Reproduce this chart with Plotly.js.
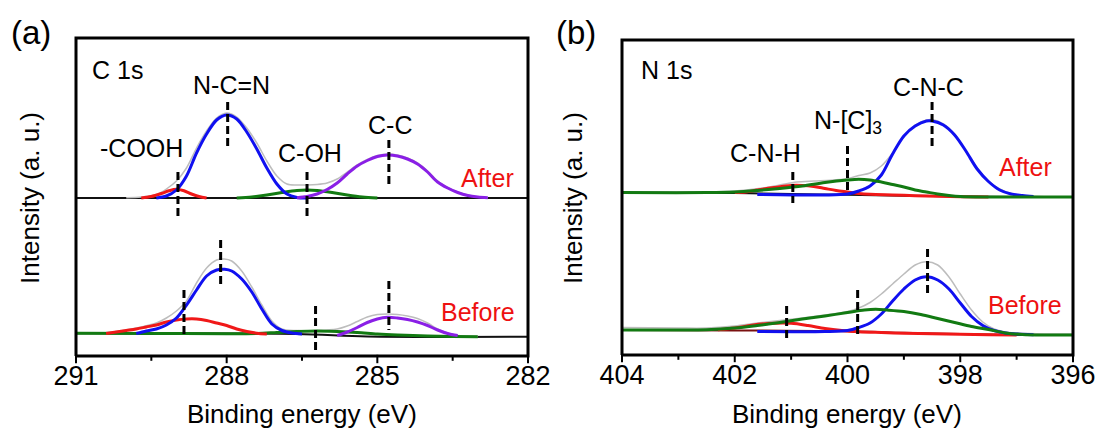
<!DOCTYPE html>
<html>
<head>
<meta charset="utf-8">
<script src="https://cdn.plot.ly/plotly-3.0.1.min.js"></script>
<style>html,body{margin:0;padding:0;background:#fff;}#chart{width:1102px;height:437px;}</style>
</head>
<body>
<div id="chart"></div>
<script>
// ---------- Panel (a) C 1s : After (values above the After baseline, a.u.) ----------
const c1sAfterOffset = 158;
const c1sAfterEnvX = [290.0,289.7,289.4,289.2,289.0,288.8,288.6,288.4,288.2,288.0,287.8,287.6,287.4,287.2,287.0,286.8,286.6,286.4,286.2,286.0,285.8,285.6,285.4,285.2,285.0,284.8,284.6,284.4,284.2,284.0,283.8,283.6,283.4,283.2,283.0,282.8];
const c1sAfterEnvY = [0.3,1,3.5,9,17,30,50,67,80,85,81,70,55,37,22,14,13,13,13.5,15,19,26,33,38.5,42.5,44,43,40,35,27,17,10.5,6,3,1,0.3];
const c1sAfterNCNX = [289.4,289.2,289.0,288.8,288.6,288.4,288.2,288.0,287.8,287.6,287.4,287.2,287.0,286.8,286.6,286.4];
const c1sAfterNCNY = [0,2,8,22,45,64,78,83,79,66,49,30,14,4,0.5,0];
const c1sAfterCOOHX = [289.7,289.5,289.3,289.15,289.0,288.85,288.7,288.55,288.4];
const c1sAfterCOOHY = [0,1.5,4.5,7.2,8.7,7.2,4,1.5,0];
const c1sAfterCOHX = [287.8,287.5,287.2,286.9,286.6,286.4,286.2,285.9,285.6,285.3,285.0];
const c1sAfterCOHY = [0,1,3,5.5,7.6,8,7.5,5.5,3,1,0];
const c1sAfterCCX = [286.6,286.4,286.2,286.0,285.8,285.6,285.4,285.2,285.0,284.8,284.6,284.4,284.2,284.0,283.8,283.6,283.4,283.2,283.0,282.8];
const c1sAfterCCY = [0.3,1.5,4,8.5,15,24,32,37.5,41.5,43,42,39,34,26,16,10,5.5,2.5,1,0.3];
const c1sAfterBgX = [291,282];
const c1sAfterBgY = [0,0];

// ---------- Panel (a) C 1s : Before ----------
const c1sBeforeOffset = 22;
const c1sBeforeEnvX = [290.6,290.2,289.8,289.4,289.2,289.0,288.8,288.6,288.4,288.2,288.05,287.9,287.7,287.5,287.3,287.1,286.9,286.6,286.2,285.8,285.6,285.4,285.2,285.0,284.8,284.6,284.4,284.2,284.0,283.8,283.6,283.4,283.0];
const c1sBeforeEnvY = [0.5,2.5,6,11,16,23,33,51,66,74,75,73,63,47,29,13,5,3.5,3.5,5,8,12.5,17,19.5,20,19.5,18,15.5,11,5,1,-1.5,-2.5];
const c1sBeforeNCNX = [289.8,289.6,289.4,289.2,289.0,288.8,288.6,288.4,288.2,288.04,287.9,287.7,287.5,287.3,287.1,286.9,286.7,286.5];
const c1sBeforeNCNY = [0.5,3,5,9,16,29,44,58,64,64.7,63,55,42,25,10,3.5,1,0];
const c1sBeforeCOOHX = [290.4,290.2,290.0,289.8,289.6,289.4,289.2,289.0,288.8,288.6,288.4,288.2,288.0,287.8,287.6,287.4,287.2];
const c1sBeforeCOOHY = [0.5,2,3.5,5,7,9,12,14,15,15,13.5,11,8.5,5,2.5,0.8,0];
const c1sBeforeCOHX = [291,289.5,288.0,287.4,287.0,286.6,286.2,285.8,285.4,285.0,284.6,284.0,283.5,283.0];
const c1sBeforeCOHY = [0.8,0.6,0.3,0.5,1.5,2.5,3,2.5,1.5,0,-1,-2,-2.5,-2.7];
const c1sBeforeCCX = [285.8,285.6,285.4,285.2,285.0,284.8,284.6,284.4,284.2,284.0,283.8,283.6,283.4];
const c1sBeforeCCY = [-1.5,2,6.5,11.5,15,16.7,16,14.5,12,8.5,4,0.5,-1.5];
const c1sBeforeBgX = [291,286.6,285.2,282];
const c1sBeforeBgY = [0.7,0,-2.5,-2.7];

// peak-position markers (a)
const c1sAfterMarkX = [288.97,287.98,286.40,284.77];
const c1sAfterMarkTop = [184,254,184,216];
const c1sAfterMarkBottom = [136,208,136,169];
const c1sBeforeMarkX = [288.85,288.12,286.23,284.77];
const c1sBeforeMarkTop = [66,116,50,75];
const c1sBeforeMarkBottom = [19,68,3,26];

// ---------- Panel (b) N 1s : After ----------
const n1sAfterOffset = 158;
const n1sAfterEnvX = [404,403,402.2,401.8,401.5,401.2,400.9,400.6,400.3,400.0,399.8,399.6,399.4,399.2,399.0,398.8,398.6,398.5,398.3,398.1,397.9,397.7,397.5,397.3,397.1,396.9,396.6,396.0];
const n1sAfterEnvY = [5,5,5.5,7,9,12,15,16,16.7,18.5,21.5,24,31,44,61,72,77,77.4,73,63,46,29,16,8,3.5,1.5,0.5,0];
const n1sAfterCNCX = [401.6,400.4,400.0,399.8,399.6,399.4,399.2,399.0,398.8,398.6,398.5,398.3,398.1,397.9,397.7,397.5,397.3,397.1,396.9,396.7];
const n1sAfterCNCY = [2.5,2,3,6,11,22,43,61,71,76,76,72,62,46,28,15.5,7,3,1.5,0.5];
const n1sAfterNC3X = [404,402.5,402.0,401.6,401.2,400.8,400.4,400.0,399.8,399.6,399.4,399.2,399.0,398.8,398.6,398.4,398.2,398.0,397.5,396.0];
const n1sAfterNC3Y = [4.4,4.4,5,6.5,8.5,11,14.5,17,17.7,17,15,12.5,10,7,5,3,1.5,0.5,0,0];
const n1sAfterCNHX = [402.0,401.8,401.6,401.3,401.0,400.8,400.6,400.4,400.2,400.0,399.8,399.6,399.2,398.8,398.4,398.0,397.5];
const n1sAfterCNHY = [4.4,5,7,9.5,11.5,11.5,10.5,8.5,6.5,5,3.5,2.7,2,1.3,0.8,0.3,0];
const n1sAfterBgX = [404,402,401,400,399,398,397,396];
const n1sAfterBgY = [4.4,4,3,2.2,1.3,0.5,0,0];

// ---------- Panel (b) N 1s : Before ----------
const n1sBeforeOffset = 20;
const n1sBeforeEnvX = [404,403,402.5,402.0,401.6,401.2,400.8,400.4,400.0,399.8,399.6,399.4,399.2,399.0,398.8,398.6,398.4,398.2,398.0,397.8,397.6,397.4,397.2,397.0,396.5,396.0];
const n1sBeforeEnvY = [7.5,7,7,9,12,14.5,17,20,23.5,27,32.5,41,51,61,70,73.3,70,58,41,25,13,6,3,2,1,1];
const n1sBeforeCNCX = [401.6,400.4,400.0,399.8,399.6,399.4,399.2,399.0,398.8,398.6,398.4,398.2,398.0,397.8,397.6,397.4,397.2,397.0,396.7];
const n1sBeforeCNCY = [3.5,3.5,4.5,7.5,12,21,34,46,55,58.3,55,46,32,18.5,9.5,4.5,2,1,0.3];
const n1sBeforeNC3X = [404,403,402.5,402.0,401.6,401.2,400.8,400.4,400.0,399.7,399.5,399.3,399.0,398.7,398.4,398.1,397.8,397.5,397.2,396.9,396.5,396];
const n1sBeforeNC3Y = [5,5,5.3,7,9.5,12.5,16,19,22.5,25,25.7,25,23.5,20.5,16.5,12.5,8.5,5.5,2,0.5,0,0];
const n1sBeforeCNHX = [402.3,402.0,401.7,401.4,401.0,400.7,400.4,400.1,399.8,399.4,399.0,398.5,398.0,397.5,397.0];
const n1sBeforeCNHY = [5.2,7,9.8,11.5,11.7,9.5,6.5,4.5,3.3,2.5,1.8,1.2,0.7,0.3,0];
const n1sBeforeBgX = [404,402,400,399,398,397,396];
const n1sBeforeBgY = [5,4.5,3.8,2.2,1,0,0];

// peak-position markers (b)
const n1sAfterMarkX = [400.97,400.0,398.5];
const n1sAfterMarkTop = [183,209,253];
const n1sAfterMarkBottom = [152,162,207];
const n1sBeforeMarkX = [401.08,399.82,398.58];
const n1sBeforeMarkTop = [49,65,106];
const n1sBeforeMarkBottom = [14,18,58];

// axis ticks
const c1sTickVals = [291, 288, 285, 282];
const c1sMinorVals = [289.5, 286.5, 283.5];
const n1sTickVals = [404, 402, 400, 398, 396];
const n1sMinorVals = [403, 401, 399, 397];

// ---------- geometry / styles ----------
const FONT = 'Liberation Sans, Arial, sans-serif';
const COL = {env:'#bdbdbd', blue:'#1010f0', red:'#f01818', green:'#127a12', purple:'#8a1fe6', base:'#111111', bgRed:'#7a1010'};
const W = 1102, H = 437, PAD = 3;
// frame box of each panel in pixels and its data extent
const boxA = {l: 76, r: 528, t: 38, b: 356, x0: 291, x1: 282, y0: 0, y1: 318};
const boxB = {l: 622, r: 1073, t: 40, b: 355, x0: 404, x1: 396, y0: 0, y1: 315};
function axisSetup(box) {
  const ux = (box.x1 - box.x0) / (box.r - box.l);   // data per px (x)
  const uy = (box.y1 - box.y0) / (box.b - box.t);   // data per px (y)
  return {
    xdomain: [(box.l - PAD) / W, (box.r + PAD) / W],
    ydomain: [(H - box.b - PAD) / H, (H - box.t + PAD) / H],
    xrange: [box.x0 - PAD * ux, box.x1 + PAD * ux],
    yrange: [box.y0 - PAD * uy, box.y1 + PAD * uy],
    uy: uy
  };
}
const axA = axisSetup(boxA), axB = axisSetup(boxB);

function curve(x, y, off, xa, ya, color, width) {
  return {x: x, y: y.map(v => v + off), xaxis: xa, yaxis: ya, type: 'scatter', mode: 'lines',
    line: {color: color, width: width, shape: 'spline', smoothing: 0.9}, hoverinfo: 'skip', showlegend: false};
}
function marks(xs, tops, bots, xa, ya) {
  return xs.map((x, i) => ({x: [x, x], y: [tops[i], bots[i]], xaxis: xa, yaxis: ya, type: 'scatter', mode: 'lines',
    line: {color: '#000', width: 3, dash: '8px,4px'}, hoverinfo: 'skip', showlegend: false}));
}
function frameTrace(box, xa, ya) {
  return {x: [box.x0, box.x1, box.x1, box.x0, box.x0], y: [box.y0, box.y0, box.y1, box.y1, box.y0],
    xaxis: xa, yaxis: ya, type: 'scatter', mode: 'lines', line: {color: '#000', width: 3},
    hoverinfo: 'skip', showlegend: false};
}
function tickTrace(vals, len, box, ax, xa, ya) {
  return {x: vals, y: vals.map(() => box.y0 - (len / 2) * ax.uy), xaxis: xa, yaxis: ya, type: 'scatter',
    mode: 'markers', cliponaxis: false,
    marker: {symbol: 'line-ns', size: len, color: '#000', line: {width: 2, color: '#000'}},
    hoverinfo: 'skip', showlegend: false};
}

const traces = [
  curve(c1sAfterBgX, c1sAfterBgY, c1sAfterOffset, 'x', 'y', COL.base, 2),
  curve(c1sAfterEnvX, c1sAfterEnvY, c1sAfterOffset, 'x', 'y', COL.env, 1.5),
  curve(c1sAfterCOHX, c1sAfterCOHY, c1sAfterOffset, 'x', 'y', COL.green, 3),
  curve(c1sAfterCOOHX, c1sAfterCOOHY, c1sAfterOffset, 'x', 'y', COL.red, 3),
  curve(c1sAfterNCNX, c1sAfterNCNY, c1sAfterOffset, 'x', 'y', COL.blue, 3),
  curve(c1sAfterCCX, c1sAfterCCY, c1sAfterOffset, 'x', 'y', COL.purple, 3),
  curve(c1sBeforeBgX, c1sBeforeBgY, c1sBeforeOffset, 'x', 'y', COL.base, 2),
  curve(c1sBeforeEnvX, c1sBeforeEnvY, c1sBeforeOffset, 'x', 'y', COL.env, 1.5),
  curve(c1sBeforeCOHX, c1sBeforeCOHY, c1sBeforeOffset, 'x', 'y', COL.green, 3),
  curve(c1sBeforeCCX, c1sBeforeCCY, c1sBeforeOffset, 'x', 'y', COL.purple, 3),
  curve(c1sBeforeCOOHX, c1sBeforeCOOHY, c1sBeforeOffset, 'x', 'y', COL.red, 3),
  curve(c1sBeforeNCNX, c1sBeforeNCNY, c1sBeforeOffset, 'x', 'y', COL.blue, 3),
  curve(n1sAfterBgX, n1sAfterBgY, n1sAfterOffset, 'x2', 'y2', COL.base, 2),
  curve(n1sAfterEnvX, n1sAfterEnvY, n1sAfterOffset, 'x2', 'y2', COL.env, 1.5),
  curve(n1sAfterCNHX, n1sAfterCNHY, n1sAfterOffset, 'x2', 'y2', COL.red, 3),
  curve(n1sAfterCNCX, n1sAfterCNCY, n1sAfterOffset, 'x2', 'y2', COL.blue, 3),
  curve(n1sAfterNC3X, n1sAfterNC3Y, n1sAfterOffset, 'x2', 'y2', COL.green, 3),
  curve(n1sBeforeBgX, n1sBeforeBgY, n1sBeforeOffset, 'x2', 'y2', COL.bgRed, 2),
  curve(n1sBeforeEnvX, n1sBeforeEnvY, n1sBeforeOffset, 'x2', 'y2', COL.env, 1.5),
  curve(n1sBeforeCNHX, n1sBeforeCNHY, n1sBeforeOffset, 'x2', 'y2', COL.red, 3),
  curve(n1sBeforeCNCX, n1sBeforeCNCY, n1sBeforeOffset, 'x2', 'y2', COL.blue, 3),
  curve(n1sBeforeNC3X, n1sBeforeNC3Y, n1sBeforeOffset, 'x2', 'y2', COL.green, 3),
  ...marks(c1sAfterMarkX, c1sAfterMarkTop, c1sAfterMarkBottom, 'x', 'y'),
  ...marks(c1sBeforeMarkX, c1sBeforeMarkTop, c1sBeforeMarkBottom, 'x', 'y'),
  ...marks(n1sAfterMarkX, n1sAfterMarkTop, n1sAfterMarkBottom, 'x2', 'y2'),
  ...marks(n1sBeforeMarkX, n1sBeforeMarkTop, n1sBeforeMarkBottom, 'x2', 'y2'),
  frameTrace(boxA, 'x', 'y'),
  frameTrace(boxB, 'x2', 'y2'),
  tickTrace(c1sTickVals, 6, boxA, axA, 'x', 'y'),
  tickTrace(c1sMinorVals, 4, boxA, axA, 'x', 'y'),
  tickTrace(n1sTickVals, 6, boxB, axB, 'x2', 'y2'),
  tickTrace(n1sMinorVals, 4, boxB, axB, 'x2', 'y2')
];

const xBase = {
  ticks: '', showline: false, showgrid: false, zeroline: false,
  tickfont: {family: FONT, size: 27, color: '#000'}, ticklabelstandoff: -2,
  tickmode: 'array', fixedrange: true
};
const yBase = {
  showline: false, ticks: '', showticklabels: false, showgrid: false, zeroline: false, fixedrange: true
};

function txt(text, x, y, xref, yref, opts) {
  return Object.assign({text: text, x: x, y: y, xref: xref, yref: yref, showarrow: false,
    font: {family: FONT, size: 25, color: '#000'}, xanchor: 'center', yanchor: 'middle'}, opts || {});
}
const redFont = {family: FONT, size: 25, color: '#ee1111'};

const layout = {
  width: W, height: H,
  margin: {l: 0, r: 0, t: 0, b: 0},
  paper_bgcolor: '#fff', plot_bgcolor: 'rgba(0,0,0,0)',
  showlegend: false,
  xaxis: Object.assign({}, xBase, {domain: axA.xdomain, range: axA.xrange, anchor: 'y', tickvals: c1sTickVals}),
  yaxis: Object.assign({}, yBase, {domain: axA.ydomain, range: axA.yrange, anchor: 'x'}),
  xaxis2: Object.assign({}, xBase, {domain: axB.xdomain, range: axB.xrange, anchor: 'y2', tickvals: n1sTickVals}),
  yaxis2: Object.assign({}, yBase, {domain: axB.ydomain, range: axB.yrange, anchor: 'x2'}),
  annotations: [
    txt('(a)', 0.028, 0.9245, 'paper', 'paper', {font: {family: FONT, size: 33, color: '#000'}}),
    txt('(b)', 0.5227, 0.9245, 'paper', 'paper', {font: {family: FONT, size: 33, color: '#000'}}),
    txt('Binding energy (eV)', 0.2745, 0.052, 'paper', 'paper', {font: {family: FONT, size: 26, color: '#000'}}),
    txt('Binding energy (eV)', 0.769, 0.052, 'paper', 'paper', {font: {family: FONT, size: 26, color: '#000'}}),
    txt('Intensity (a. u.)', 0.0272, 0.547, 'paper', 'paper', {textangle: -90, font: {family: FONT, size: 26, color: '#000'}}),
    txt('Intensity (a. u.)', 0.52, 0.547, 'paper', 'paper', {textangle: -90, font: {family: FONT, size: 26, color: '#000'}}),
    txt('C 1s', 290.73, 286, 'x', 'y', {xanchor: 'left'}),
    txt('N-C=N', 287.9, 271, 'x', 'y'),
    txt('-COOH', 289.7, 208, 'x', 'y'),
    txt('C-OH', 286.35, 203, 'x', 'y'),
    txt('C-C', 284.75, 231, 'x', 'y'),
    txt('After', 282.8, 178, 'x', 'y', {font: redFont}),
    txt('Before', 283.0, 44, 'x', 'y', {font: redFont}),
    txt('N 1s', 403.7, 285, 'x2', 'y2', {xanchor: 'left'}),
    txt('C-N-C', 398.57, 268, 'x2', 'y2'),
    txt('N-[C]<sub>3</sub>', 399.99, 233, 'x2', 'y2'),
    txt('C-N-H', 401.45, 202, 'x2', 'y2'),
    txt('After', 396.85, 188, 'x2', 'y2', {font: redFont}),
    txt('Before', 396.85, 50, 'x2', 'y2', {font: redFont})
  ]
};

Plotly.newPlot('chart', traces, layout, {displayModeBar: false});
</script>
</body>
</html>
